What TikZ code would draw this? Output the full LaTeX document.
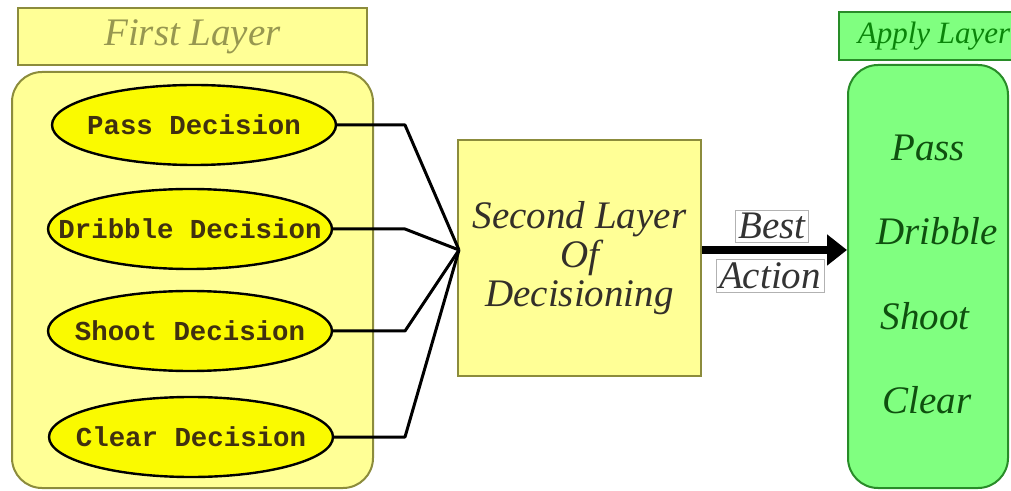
\documentclass[tikz,border=0pt]{standalone}
\usepackage{fontspec}
\setmainfont{Liberation Serif}
\setmonofont{Liberation Mono}
\usetikzlibrary{shapes,arrows.meta,positioning}

\definecolor{paleyellow}{RGB}{255,255,150}
\definecolor{oliveline}{RGB}{140,140,60}
\definecolor{decyellow}{RGB}{250,250,0}
\definecolor{dectext}{RGB}{64,48,16}
\definecolor{palegreen}{RGB}{128,255,128}
\definecolor{greenline}{RGB}{40,140,40}
\definecolor{greentext}{RGB}{15,80,15}

\begin{document}
\begin{tikzpicture}[x=0.5pt,y=-0.5pt,
    layerfont/.style={font=\fontsize{19.5}{19.5}\selectfont\itshape},
    title/.style={draw=oliveline, fill=paleyellow, line width=1pt, layerfont, text=oliveline!90},
    decision/.style={draw=black, fill=decyellow, ellipse, line width=1.2pt, minimum width=142pt, minimum height=40pt},
    wire/.style={draw=black, line width=1.5pt, line join=round},
    tag/.style={draw=gray!60, fill=white, line width=0.4pt, inner sep=1.5pt, layerfont}]

        \useasboundingbox (0,0) rectangle (1011,491);
        \clip (0,0) rectangle (1011,491);

        % First layer
        \node[title, minimum width=174.5pt, minimum height=28.5pt] (firsttitle) at (192.5,36.5) {First Layer};
        \node[draw=oliveline, fill=paleyellow, line width=1pt, rounded corners=15pt, minimum width=180.5pt, minimum height=208pt] (firstbox) at (192.5,280) {};

        % Decisions
        \node[decision, label={[font=\fontsize{13.7}{14}\selectfont\ttfamily\bfseries, text=dectext]center:Pass Decision}] (pass) at (194,125) {};
        \node[decision, label={[font=\fontsize{13.7}{14}\selectfont\ttfamily\bfseries, text=dectext]center:Dribble Decision}] (dribble) at (190,229) {};
        \node[decision, label={[font=\fontsize{13.7}{14}\selectfont\ttfamily\bfseries, text=dectext]center:Shoot Decision}] (shoot) at (190,331) {};
        \node[decision, label={[font=\fontsize{13.7}{14}\selectfont\ttfamily\bfseries, text=dectext]center:Clear Decision}] (clear) at (191,437) {};

        % Second layer
        \node[draw=oliveline, fill=paleyellow, line width=1pt, minimum width=121.5pt, minimum height=118pt, align=center, layerfont, text=black!85!olive] (second) at (579.5,258) {Second Layer\\Of\\Decisioning};

        % Wires into second layer
        \coordinate (bend) at (405,0);
        \coordinate (hub) at (459,250);
        \draw[wire] (pass.east) -- (pass.east -| bend) -- (hub);
        \draw[wire] (dribble.east) -- (dribble.east -| bend) -- (hub);
        \draw[wire] (shoot.east) -- (shoot.east -| bend) -- (hub);
        \draw[wire] (clear.east) -- (clear.east -| bend) -- (hub);

        % Apply layer
        \node[draw=greenline, fill=palegreen, line width=1pt, minimum width=96pt, minimum height=24pt, font=\fontsize{15.5}{16}\selectfont\itshape, text=greentext!70!green, anchor=west] (applytitle) at (838,36) {\hspace*{-1pt}Apply Layer};
        \node[draw=greenline, fill=palegreen, line width=1pt, rounded corners=15pt, minimum width=80pt, minimum height=211.5pt] (applybox) at (928,276.5) {};
        \node[layerfont, text=greentext] (apass) at (928,148) {Pass};
        \node[layerfont, text=greentext] (adribble) at (937,231) {Dribble};
        \node[layerfont, text=greentext] (ashoot) at (925,316) {Shoot};
        \node[layerfont, text=greentext] (aclear) at (927,400) {Clear};

        % Best action
        \draw[line width=4pt, -{Triangle[length=10pt,width=15pt]}] (second.east |- hub) -- (applybox.west |- hub);
        \node[tag, text=black!80] (best) at (772,226) {Best};
        \node[tag, text=black!80] (action) at (770,276) {Action};
\end{tikzpicture}
\end{document}
